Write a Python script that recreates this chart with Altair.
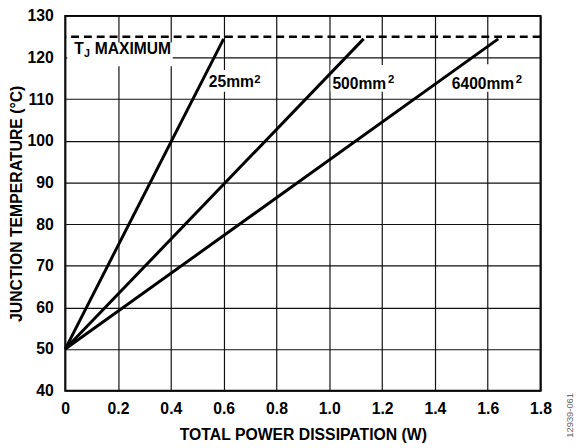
import altair as alt
import pandas as pd

# ---- data ----
series = ["25mm²", "500mm²", "6400mm²"]
x_start = [0.0, 0.0, 0.0]
y_start = [50, 50, 50]
x_end = [0.60, 1.13, 1.64]
y_end = [124.5, 124.5, 124.5]
tj_max = 125

x_ticks = [0, 0.2, 0.4, 0.6, 0.8, 1.0, 1.2, 1.4, 1.6, 1.8]
y_ticks = [40, 50, 60, 70, 80, 90, 100, 110, 120, 130]

# annotation texts (data coordinates)
ann_text = ["T", "J", "MAXIMUM", "25mm", "2", "500mm", "2", "6400mm", "2"]
ann_x = [0.034, 0.071, 0.112, 0.544, 0.7155, 1.012, 1.222, 1.464, 1.706]
ann_y = [120.76, 120.22, 120.76, 112.95, 113.97, 112.55, 113.9, 112.55, 113.9]
ann_size = [15.8, 10.8, 15.8, 15.8, 11.5, 15.8, 11.5, 15.8, 11.5]

# white label backgrounds (data coordinates)
box_x = [0.008, 0.53, 1.005, 1.453]
box_x2 = [0.407, 0.747, 1.258, 1.744]
box_y = [123.6, 117.0, 118.2, 118.4]
box_y2 = [117.9, 111.8, 111.8, 111.8]

rows = []
for s, xs, ys, xe, ye in zip(series, x_start, y_start, x_end, y_end):
    rows.append({"series": s, "x": xs, "y": ys})
    rows.append({"series": s, "x": xe, "y": ye})
lines_df = pd.DataFrame(rows)
ann_df = pd.DataFrame({"text": ann_text, "x": ann_x, "y": ann_y, "size": ann_size})
box_df = pd.DataFrame({"x": box_x, "x2": box_x2, "y": box_y, "y2": box_y2})

FONT = "Liberation Sans"

xscale = alt.Scale(domain=[0, 1.8], nice=False, zero=False)
yscale = alt.Scale(domain=[40, 130], nice=False, zero=False)

xaxis = alt.Axis(
    values=x_ticks,
    labelExpr="datum.value == 0 ? '0' : format(datum.value, '.1f')",
    title="TOTAL POWER DISSIPATION (W)",
    titleX=241, titleY=49, titleAlign="center", titleBaseline="alphabetic",
    labelPadding=10, labelFlush=False, labelOverlap=False,
)
yaxis = alt.Axis(
    values=y_ticks,
    title="JUNCTION TEMPERATURE (°C)",
    titleX=-49, titleY=190, titleAngle=270, titleAlign="center", titleBaseline="middle",
    labelPadding=12, labelFlush=False, labelOverlap=False,
)

base_lines = alt.Chart(lines_df).mark_line(color="black", strokeWidth=3).encode(
    x=alt.X("x:Q", scale=xscale, axis=xaxis),
    y=alt.Y("y:Q", scale=yscale, axis=yaxis),
    detail="series:N",
)

boxes = alt.Chart(box_df).mark_rect(color="white").encode(
    x=alt.X("x:Q", scale=xscale), x2="x2:Q",
    y=alt.Y("y:Q", scale=yscale), y2="y2:Q",
)

rule = alt.Chart(pd.DataFrame({"y": [tj_max]})).mark_rule(
    color="black", strokeWidth=2.5, strokeDash=[8, 5]
).encode(y=alt.Y("y:Q", scale=yscale))

texts = alt.Chart(ann_df).mark_text(
    align="left", baseline="alphabetic", font=FONT, fontWeight="bold", color="black"
).encode(
    x=alt.X("x:Q", scale=xscale),
    y=alt.Y("y:Q", scale=yscale),
    text="text:N",
    size=alt.Size("size:Q", scale=None, legend=None),
)

code = alt.Chart(pd.DataFrame({"t": ["12939-061"]})).mark_text(
    angle=270, align="center", baseline="middle", font=FONT, fontSize=9.5, color="#666666"
).encode(text="t:N", x=alt.value(512), y=alt.value(405))

chart = alt.layer(boxes, base_lines, rule, texts, code).properties(
    width=482, height=380,
    padding={"left": 58, "top": 5, "right": 39, "bottom": 52},
    autosize=alt.AutoSizeParams(type="none"),
).configure_view(
    stroke="black", strokeWidth=2
).configure_axis(
    grid=True, gridColor="#111111", gridWidth=1.2, gridOpacity=1,
    domain=False, ticks=False,
    labelFont=FONT, labelFontWeight="bold", labelFontSize=16, labelColor="black",
    titleFont=FONT, titleFontWeight="bold", titleFontSize=16, titleColor="black",
)

chart.save("out.html", embed_options={"renderer": "svg", "actions": False})
